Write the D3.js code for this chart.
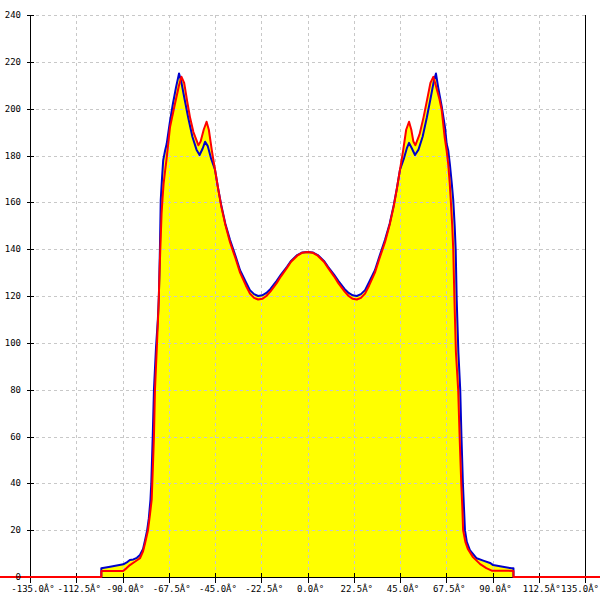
<!DOCTYPE html>
<html>
<head>
<meta charset="utf-8">
<script src="https://cdn.jsdelivr.net/npm/d3@7/dist/d3.min.js"></script>
<style>
html,body{margin:0;padding:0;background:#fff;}
svg{display:block;}
</style>
</head>
<body>
<svg id="chart" width="600" height="600"></svg>
<script>
const xTicks = [-135, -112.5, -90, -67.5, -45, -22.5, 0, 22.5, 45, 67.5, 90, 112.5, 135];
const yTicks = [0, 20, 40, 60, 80, 100, 120, 140, 160, 180, 200, 220, 240];

const bluePoints = [
[-150,0],[-100.3,0],[-100.3,3.7],[-96,4.4],[-89.6,5.4],[-87.5,6.5],[-86.4,7.3],[-84.7,7.5],[-83,8.2],[-81.5,9.4],[-80,12],[-79,15.8],[-78,20],[-77.2,25],[-76.4,33],[-76,40],[-75.3,60],[-74.7,80],[-73.7,98],[-72.8,110],[-72.3,120],[-71.8,140],[-71.4,161],[-70.8,170],[-70.2,178],[-69.3,182],[-68.5,185],[-67,194],[-65.5,202],[-64,209],[-62.5,215],[-61.5,212],[-60,205],[-58,196],[-56,188],[-54,182.5],[-52.5,180.2],[-51,183],[-49.8,185.9],[-48.5,184],[-47,179],[-45,174],[-43.5,166],[-42,159],[-40,151],[-37.7,144],[-35,137],[-32.8,131],[-30,126],[-28,122.5],[-26,120.8],[-24,120],[-22,120.3],[-20,121.3],[-18,123],[-15,126.5],[-13,129],[-10,132.5],[-8,135],[-5,137.5],[-2.5,138.6],[0,138.8],
[2.5,138.6],[5,137.5],[8,135],[10,132.5],[13,129],[15,126.5],[18,123],[20,121.3],[22,120.3],[24,120],[26,120.8],[28,122.5],[30,126],[32.8,131],[35,137],[37.7,144],[40,151],[42,159],[43.5,166],[45,174],[47,179],[48.3,183],[49.4,185.4],[50.8,183],[52.3,180.2],[54,182.5],[56,188],[58,196],[60,205],[61.5,212],[62.5,215],[63.6,209],[65.3,201],[66.9,192],[67.7,185],[68.5,182],[69.3,176],[70.2,168],[70.9,161],[71.6,150],[72.1,139.6],[72.6,118],[73.4,96],[74.3,80],[74.9,60],[75.6,40],[76.1,30],[76.6,20],[77.5,15],[79,11.5],[82.3,8],[85.5,7],[88.8,6],[90.3,5.1],[95,4.4],[99.3,3.7],[100.2,3.7],[100.2,0],[150,0]
];

const redPoints = [
[-150,0],[-100.3,0],[-100.3,2.6],[-89.7,2.6],[-88,3.8],[-86.4,5.1],[-84,6.5],[-81.5,8],[-80,11],[-79,14.5],[-77.6,20],[-76.6,27],[-75.8,33],[-75.3,45],[-74.7,60],[-74.2,80],[-73.3,98],[-72.5,115],[-71.8,135],[-71,155],[-70.5,162],[-70,168],[-69.2,174],[-68.5,179],[-66.9,192],[-64.5,202],[-62.5,210],[-61.3,213.6],[-60,211],[-58.5,203],[-57.2,196.5],[-55.5,190],[-53.1,184.4],[-52,186],[-50.5,191],[-49.1,194.4],[-48,191],[-46.5,182],[-45,174],[-43.5,166],[-42,158.5],[-40,150.5],[-37.7,143],[-35,136],[-32.8,130],[-30,124.5],[-28,121],[-26,119.2],[-24,118.5],[-22,118.8],[-20,120],[-18,122],[-15,125.5],[-13,128.3],[-10,132],[-8,134.6],[-5,137.2],[-2.5,138.5],[0,138.8],
[2.5,138.5],[5,137.2],[8,134.6],[10,132],[13,128.3],[15,125.5],[18,122],[20,120],[22,118.8],[24,118.5],[26,119.2],[28,121],[30,124.5],[32.8,130],[35,136],[37.7,143],[40,150.5],[42,158.5],[43.5,166],[45,174],[46.5,182],[48,191],[49.4,194.4],[50.5,191],[51.5,186],[52.5,184.4],[54.5,189],[56.5,196.5],[58,203],[59.8,211],[61.2,213.6],[62.4,210],[64.2,204],[65.3,199.4],[66.7,188],[67.7,182],[68.5,176],[69.2,168],[69.7,161],[70.4,150],[70.9,140],[71.5,118],[72.2,96],[73.3,80],[74,60],[74.8,40],[75.3,30],[75.7,20],[76.8,15],[78,12],[80.5,8.5],[84,5.5],[87,3.8],[89.6,2.7],[100.2,2.6],[100.2,0],[150,0]
];

const svg = d3.select("#chart");
const x = d3.scaleLinear().domain([-135, 135]).range([30, 585]);
const y = d3.scaleLinear().domain([0, 240]).range([577, 15]);

// fills
const area = d3.area().x(d => x(d[0])).y0(y(0)).y1(d => y(d[1]));
svg.append("path").datum(bluePoints).attr("d", area).attr("fill", "#ffff00");
svg.append("path").datum(redPoints).attr("d", area).attr("fill", "#ffff00");

// grid
const grid = svg.append("g").attr("stroke", "#c8c8c8").attr("stroke-width", 1).attr("stroke-dasharray", "3,3");
xTicks.forEach(t => {
  grid.append("line").attr("x1", Math.round(x(t)) + 0.5).attr("x2", Math.round(x(t)) + 0.5)
    .attr("y1", y(240)).attr("y2", y(0));
});
yTicks.forEach(t => {
  grid.append("line").attr("x1", x(-135)).attr("x2", x(135))
    .attr("y1", Math.round(y(t)) + 0.5).attr("y2", Math.round(y(t)) + 0.5);
});

// axes
const ax = svg.append("g").attr("stroke", "#000").attr("stroke-width", 1);
ax.append("line").attr("x1", 30.5).attr("x2", 30.5).attr("y1", y(240)).attr("y2", 583);
ax.append("line").attr("x1", 585.5).attr("x2", 585.5).attr("y1", y(240)).attr("y2", 583);
ax.append("line").attr("x1", 24).attr("x2", 600).attr("y1", 577.5).attr("y2", 577.5);
xTicks.forEach(t => {
  ax.append("line").attr("x1", Math.round(x(t)) + 0.5).attr("x2", Math.round(x(t)) + 0.5)
    .attr("y1", 573).attr("y2", 583);
});
yTicks.forEach(t => {
  ax.append("line").attr("x1", 27).attr("x2", 34)
    .attr("y1", Math.round(y(t)) + 0.5).attr("y2", Math.round(y(t)) + 0.5);
});

// lines
const line = d3.line().x(d => x(d[0])).y(d => y(d[1]));
svg.append("path").datum(bluePoints).attr("d", line).attr("fill", "none")
  .attr("stroke", "#0000cc").attr("stroke-width", 2).attr("stroke-linejoin", "round");
svg.append("path").datum(redPoints).attr("d", line).attr("fill", "none")
  .attr("stroke", "#ff0000").attr("stroke-width", 2).attr("stroke-linejoin", "round");

// labels
const lab = svg.append("g").attr("font-family", "'DejaVu Sans Mono', monospace").attr("fill", "#000");
xTicks.forEach((t, i) => {
  const last = i === xTicks.length - 1;
  lab.append("text")
    .attr("x", last ? 599 : x(t) + 3)
    .attr("y", 592).attr("font-size", 9)
    .attr("text-anchor", last ? "end" : "middle")
    .text(t.toFixed(1) + "Â°");
});
yTicks.forEach(t => {
  lab.append("text").attr("x", 21).attr("y", y(t) + 3).attr("font-size", 9)
    .attr("text-anchor", "end").text(t);
});
</script>
</body>
</html>
